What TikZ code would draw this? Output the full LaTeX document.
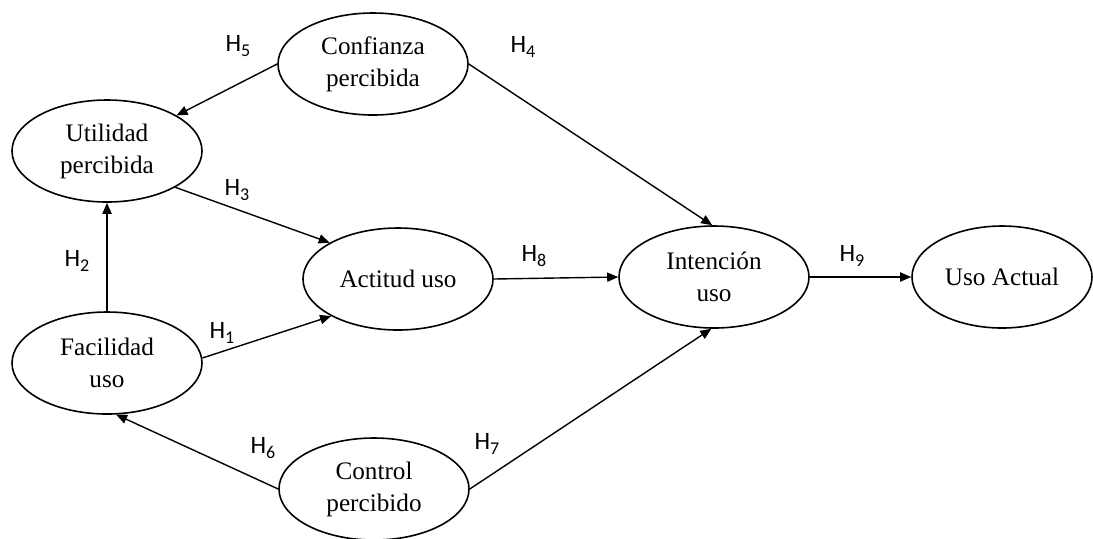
\documentclass[tikz,border=0pt]{standalone}
\usepackage{fontspec}
\setmainfont{Liberation Serif}
\newfontfamily\hfont{Carlito}
\usetikzlibrary{arrows.meta,shapes.geometric}
\newcommand{\hyplab}[1]{H\raisebox{-0.45ex}{\fontsize{9}{9}\selectfont #1}}
\begin{document}
\begin{tikzpicture}[x=0.5pt,y=-0.5pt,
  var/.style={draw, line width=0.8pt, ellipse, minimum width=95pt, minimum height=51pt, inner sep=0pt, align=center, font=\fontsize{12.6}{16}\selectfont},
  arr/.style={line width=0.7pt, -{Triangle[length=5.5pt,width=4.6pt]}},
  hyp/.style={font=\hfont\fontsize{12.5}{14}\selectfont, inner sep=0pt}
]
\useasboundingbox (0,0) rectangle (1093,538);
\node[var] (conf) at (373,64) {Confianza\\percibida};
\node[var] (util) at (107,151) {Utilidad\\percibida};
\node[var] (act) at (398,279) {Actitud uso};
\node[var] (int) at (714,277) {Intención\\uso};
\node[var, minimum width=90pt] (uso) at (1002,277) {Uso Actual};
\node[var] (fac) at (107,363) {Facilidad\\uso};
\node[var] (ctrl) at (374,489) {Control\\percibido};

\draw[arr] (conf.west) -- (util);
\draw[arr] (conf.east) -- (int.92);
\draw[arr] (util.-28) -- (act.152);
\draw[arr] (fac.north) -- (util.south);
\draw[arr] (fac.3) -- (act.-151);
\draw[arr] (ctrl.west) -- (fac.-80);
\draw[arr] (ctrl.east) -- (int.-93);
\draw[arr] (act.east) -- (int.west);
\draw[arr] (int.east) -- (uso.west);

\node[hyp] (h5) at (238,46) {\hyplab{5}};
\node[hyp] (h4) at (523,47) {\hyplab{4}};
\node[hyp] (h3) at (237,190) {\hyplab{3}};
\node[hyp] (h2) at (77,261) {\hyplab{2}};
\node[hyp] (h1) at (222,333) {\hyplab{1}};
\node[hyp] (h8) at (534,256) {\hyplab{8}};
\node[hyp] (h9) at (852,256) {\hyplab{9}};
\node[hyp] (h6) at (263,448) {\hyplab{6}};
\node[hyp] (h7) at (487,444) {\hyplab{7}};
\end{tikzpicture}
\end{document}
